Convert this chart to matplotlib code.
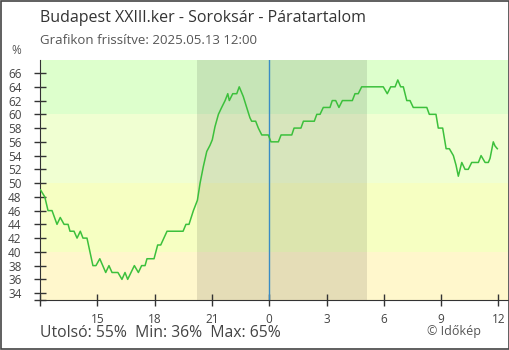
import matplotlib.pyplot as plt
from matplotlib.patches import Rectangle

plt.rcParams['font.family'] = ['Open Sans', 'DejaVu Sans']

# hours since 12:00 of the previous day, relative humidity (%)
ora = [0.03, 0.25, 0.42, 0.63, 0.89, 1.06, 1.26, 1.47, 1.57, 1.78, 1.94, 2.11,
       2.25, 2.46, 2.77, 2.93, 3.13, 3.44, 3.61, 3.77, 4.08, 4.29, 4.45, 4.59,
       4.94, 5.15, 5.32, 5.50, 5.60, 5.97, 6.16, 6.32, 6.65, 7.49, 7.64, 7.80,
       8.03, 8.24, 8.38, 8.55, 8.73, 8.90, 9.02, 9.16, 9.34, 9.51, 9.69, 9.83,
       9.91, 10.09, 10.30, 10.43, 10.64, 10.82, 10.99, 11.08, 11.29, 11.43, 11.61,
       11.95, 12.09, 12.48, 12.62, 13.18, 13.30, 13.66, 13.79, 14.36, 14.49, 14.66,
       14.83, 15.18, 15.30, 15.48, 15.65, 15.83, 16.35, 16.49, 16.66, 16.84, 17.97,
       18.18, 18.36, 18.59, 18.73, 18.88, 19.02, 19.20, 19.37, 19.54, 20.25, 20.38,
       20.73, 20.85, 21.08, 21.26, 21.43, 21.64, 21.78, 21.90, 22.08, 22.25, 22.42,
       22.60, 22.95, 23.09, 23.30, 23.47, 23.56, 23.73, 23.82, 23.94]
para = [49, 48, 46, 46, 44, 45, 44, 44, 43, 43, 42, 43,
        42, 42, 38, 38, 39, 37, 38, 37, 37, 36, 37, 36,
        38, 37, 38, 38, 39, 39, 41, 41, 43, 43, 44, 44,
        46, 47.5, 50, 52.4, 54.6, 55.5, 56.3, 58.2, 60, 61, 62, 63,
        62, 63, 63, 64, 62.6, 61, 59.5, 59, 59, 58, 57,
        57, 56, 56, 57, 57, 58, 58, 59, 59, 60, 60,
        61, 61, 62, 62, 61, 62, 62, 63, 63, 64, 64,
        63, 64, 64, 65, 64, 64, 62, 62, 61, 61, 60,
        60, 58, 58, 55, 55, 54, 52.6, 51, 53, 52, 52,
        53, 53, 54, 53, 53, 53.6, 56, 55.4, 55]

napnyugta = 8.22   # 20:13
napkelte = 17.12   # 05:07
ejfel = 12.0

xticks = [0, 3, 6, 9, 12, 15, 18, 21, 24]
xlabels = ['', '15', '18', '21', '0', '3', '6', '9', '12']
yticks = list(range(34, 67, 2))

sávok = [(60, 68, '#ddffcc'), (50, 60, '#f0ffd2'), (40, 50, '#f6ffc2'), (33, 40, '#fff7cc')]

fig = plt.figure(figsize=(5.1, 3.5), dpi=100)
ax = fig.add_axes([40/510, 50/350, 468/510, 240/350])

for lo, hi, c in sávok:
    ax.axhspan(lo, hi, color=c, lw=0, zorder=0)
ax.axvspan(napnyugta, napkelte, color='black', alpha=0.1, lw=0, zorder=1)
ax.axvline(ejfel, color='#3a8cc4', lw=1, zorder=2)

ax.plot(ora, para, color='#3cc03c', lw=1.1, zorder=3)

ax.set_xlim(0, 24.5)
ax.set_ylim(33, 67.9)
ax.set_xticks(xticks)
ax.set_xticklabels(xlabels)
ax.set_yticks(yticks)
ax.set_yticks([33], minor=True)
ax.tick_params(axis='both', direction='inout', length=8.5, width=1, color='#333333',
               labelcolor='#444444', labelsize=8.5)
ax.tick_params(axis='y', pad=9)
ax.tick_params(axis='x', pad=5)
ax.tick_params(axis='y', which='minor', direction='inout', length=8.5, width=1, color='#333333')
for s in ['top', 'right']:
    ax.spines[s].set_visible(False)
for s in ['left', 'bottom']:
    ax.spines[s].set_color('#333333')

fig.text(40/510, 1 - 18/350, 'Budapest XXIII.ker - Soroksár - Páratartalom',
         fontsize=11.5, color='#333333', va='center', ha='left')
fig.text(40/510, 1 - 41/350, 'Grafikon frissítve: 2025.05.13 12:00',
         fontsize=9.5, color='#555555', va='center', ha='left')
fig.text(16/510, 1 - 51/350, '%', fontsize=8.5, color='#555555', va='center', ha='center')
fig.text(40/510, 1 - 333/350, 'Utolsó: 55%  Min: 36%  Max: 65%',
         fontsize=11.3, color='#444444', va='center', ha='left')
fig.text(481/510, 1 - 331/350, '© Időkép', fontsize=9, color='#555555', va='center', ha='right')

fig.patches.append(Rectangle((0.001, 0.0015), 0.997, 0.996, transform=fig.transFigure,
                             fill=False, edgecolor='#444444', lw=1.2))

fig.savefig('out.png', dpi=100)
